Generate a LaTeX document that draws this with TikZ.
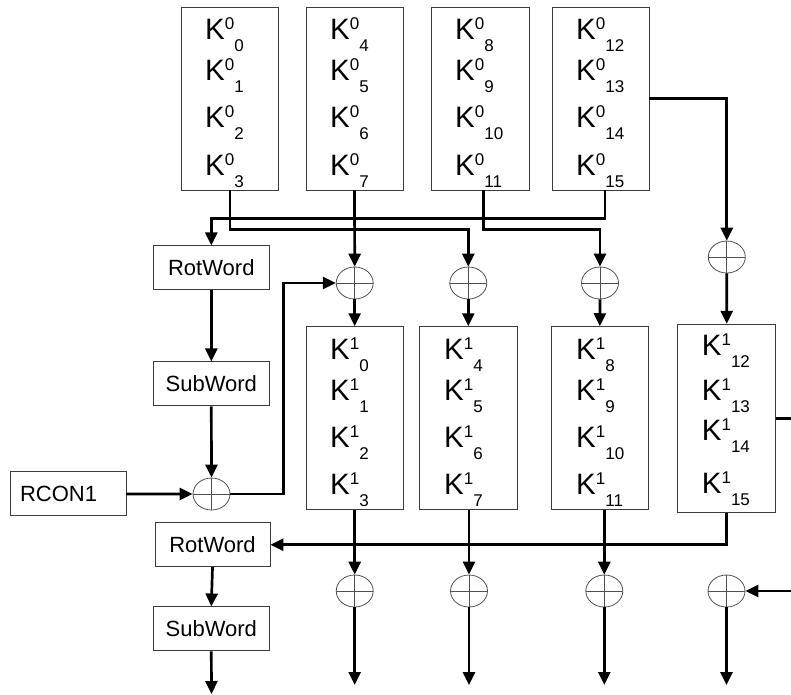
\documentclass[tikz,border=0pt]{standalone}
\usepackage{fontspec}
\setmainfont{Liberation Sans}
\usetikzlibrary{arrows.meta,shapes.geometric,calc}
\definecolor{bordergray}{RGB}{60,60,60}
\definecolor{xorgray}{RGB}{80,80,80}
\newcommand{\kw}[2]{K\raisebox{9.5pt}{\fontsize{17}{17}\selectfont #1}\raisebox{-12pt}{\fontsize{17}{17}\selectfont #2}}
\begin{document}
\begin{tikzpicture}[x=1pt,y=-1pt,
  kbox/.style={draw=bordergray, line width=0.9pt, minimum width=97pt, minimum height=183pt, inner sep=0pt},
  wbox/.style={draw=bordergray, line width=0.9pt, minimum width=116pt, minimum height=44pt, inner sep=0pt, font=\fontsize{22}{22}\selectfont},
  xor/.style={ellipse, draw=xorgray, line width=0.8pt, minimum width=37pt, minimum height=32pt, inner sep=0pt,
    path picture={\draw[xorgray, line width=0.8pt] (path picture bounding box.north) -- (path picture bounding box.south)
      (path picture bounding box.west) -- (path picture bounding box.east);}},
  wire/.style={line width=2.7pt},
  arr/.style={line width=2.7pt, -{Triangle[length=13pt,width=12pt]}},
  ktext/.style={anchor=base west, inner sep=0pt, font=\fontsize{29.5}{29.5}\selectfont}
]
\useasboundingbox (0,0) rectangle (791,694);

% K^0 boxes
\node[kbox] (A) at (229.5,98.5) {};
\node[kbox] (B) at (354.5,98.5) {};
\node[kbox, minimum width=98pt] (C) at (480,98.5) {};
\node[kbox] (D) at (600.5,98.5) {};
\foreach \bx/\st in {205/0, 330/4, 455/8, 576/12} {
  \foreach \by [count=\i from 0] in {39,80,127,175} {
    \pgfmathtruncatemacro\idx{\st+\i}
    \node[ktext] (ka-\idx) at (\bx,\by) {\kw{0}{\idx}};
  }
}

% K^1 boxes
\node[kbox, minimum height=182.6pt] (E) at (354.7,418) {};
\node[kbox, minimum width=98pt, minimum height=182.6pt] (F) at (468.3,418) {};
\node[kbox, minimum height=182.6pt] (G) at (599.8,418) {};
\node[kbox, minimum width=98pt, minimum height=188.4pt] (H) at (726.7,418.5) {};
\foreach \bx/\st in {330/0, 444/4, 576/8} {
  \foreach \by [count=\i from 0] in {359,400,447,494} {
    \pgfmathtruncatemacro\idx{\st+\i}
    \node[ktext] (kb-\idx) at (\bx,\by) {\kw{1}{\idx}};
  }
}
\foreach \by [count=\i from 12] in {355,400,440,493} {
  \node[ktext] (kb-\i) at (701.7,\by) {\kw{1}{\i}};
}

% word boxes
\node[wbox] (rot1) at (211.3,267.9) {RotWord};
\node[wbox] (sub1) at (211.3,383.9) {SubWord};
\node[wbox, inner xsep=10pt, text width=96pt, align=left] (rcon) at (68,493.9) {RCON1};
\node[wbox, minimum width=115pt] (rot2) at (212.5,544.7) {RotWord};
\node[wbox] (sub2) at (211.3,628.9) {SubWord};

% XORs
\node[xor] (x1) at (354.7,283) {};
\node[xor] (x2) at (468.3,283) {};
\node[xor] (x3) at (600,283) {};
\node[xor] (x4) at (726.8,257) {};
\node[xor] (xr) at (211.5,494) {};
\node[xor] (y1) at (354.7,591) {};
\node[xor] (y2) at (469,591) {};
\node[xor] (y3) at (604.3,591) {};
\node[xor] (y4) at (726.5,591) {};

% free ends
\coordinate (o0) at (211.5,694);
\coordinate (o1) at (354.7,685);
\coordinate (o2) at (469,685);
\coordinate (o3) at (604.3,685);
\coordinate (o4) at (726.5,685);
\coordinate (er1) at (791,418.5);
\coordinate (er2) at (791,591);

% top connections
\draw[arr] ([xshift=0.5pt]A.south) -- ++(0,39.3) -| (x2.north);
\draw[arr] ([xshift=4.5pt]D.south) -- ++(0,28.3) -| (rot1.north);
\draw[arr] (B.south) -- (x1.north);
\draw[arr] ([xshift=3.3pt]C.south) -- ++(0,39.3) -| (x3.north);
\draw[arr] (D.east) -| (x4.north);

\draw[arr] (x1.south) -- (E.north);
\draw[arr] (x2.south) -- (F.north);
\draw[arr] (x3.south) -- (G.north);
\draw[arr] (x4.south) -- (H.north);

\draw[arr] (rot1.south) -- (sub1.north);
\draw[arr] (sub1.south) -- (xr.north);
\draw[arr] (rcon.east) -- (xr.west);
\draw[arr] (xr.east) -- ++(53.3,0) |- (x1.west);

% lower connections
\draw[arr] (H.south) |- (rot2.east);
\draw[arr] (y1.north |- E.south) -- (y1.north);
\draw[arr] (y2.north |- F.south) -- (y2.north);
\draw[arr] (y3.north |- G.south) -- (y3.north);
\draw[wire] (H.east) -- (er1);
\draw[arr] (er2) -- (y4.east);

\draw[arr] (y1.south) -- (o1);
\draw[arr] (y2.south) -- (o2);
\draw[arr] (y3.south) -- (o3);
\draw[arr] (y4.south) -- (o4);

\draw[arr] (rot2.south) -- (sub2.north);
\draw[arr] (sub2.south) -- (o0);
\end{tikzpicture}
\end{document}
